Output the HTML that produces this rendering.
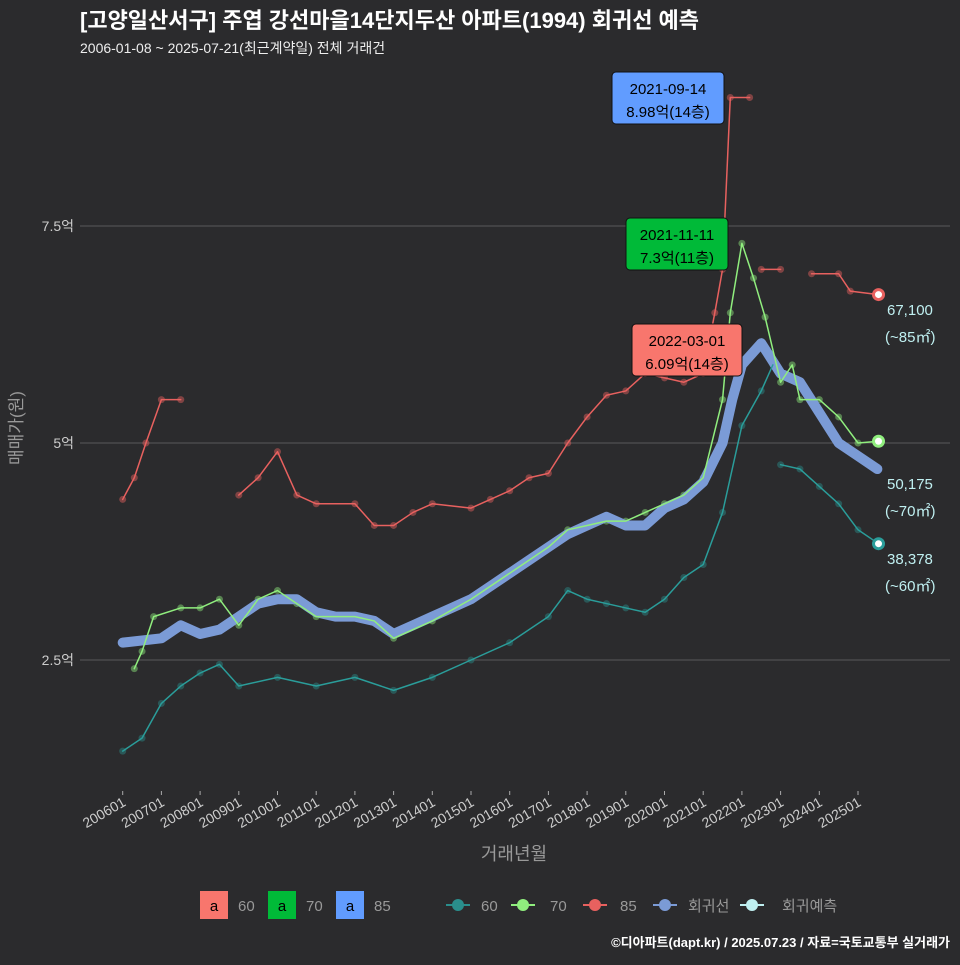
<!DOCTYPE html>
<html><head><meta charset="utf-8">
<style>
body{margin:0;background:#2b2b2d;}
svg text{font-family:"Liberation Sans","Noto Sans CJK KR",sans-serif;}
</style></head>
<body>
<svg id="chart" width="960" height="960" viewBox="0 0 960 960">
<rect width="960" height="960" fill="#2b2b2d"/>
<text x="80" y="28" fill="#fff" font-size="22" font-weight="bold">[고양일산서구] 주엽 강선마을14단지두산 아파트(1994) 회귀선 예측</text>
<text x="80" y="53" fill="#eee" font-size="14">2006-01-08 ~ 2025-07-21(최근계약일) 전체 거래건</text>
<g id="grid"></g>
<g id="marks"></g>
<g id="xaxis"></g>
<text x="22" y="428" fill="#999" font-size="17" transform="rotate(-90 22 428)" text-anchor="middle">매매가(원)</text>
<text x="514" y="860" fill="#999" font-size="18" text-anchor="middle">거래년월</text>
<g>
<rect x="612" y="72" width="112" height="52" rx="4" fill="#619cff" stroke="#111"/>
<text x="668" y="94" font-size="15" text-anchor="middle" fill="#000">2021-09-14</text>
<text x="668" y="117" font-size="15" text-anchor="middle" fill="#000">8.98억(14층)</text>
</g>
<g>
<rect x="626" y="218" width="102" height="52" rx="4" fill="#00ba38" stroke="#111"/>
<text x="677" y="240" font-size="15" text-anchor="middle" fill="#000">2021-11-11</text>
<text x="677" y="263" font-size="15" text-anchor="middle" fill="#000">7.3억(11층)</text>
</g>
<g>
<rect x="632" y="324" width="110" height="52" rx="4" fill="#f8766d" stroke="#111"/>
<text x="687" y="346" font-size="15" text-anchor="middle" fill="#000">2022-03-01</text>
<text x="687" y="369" font-size="15" text-anchor="middle" fill="#000">6.09억(14층)</text>
</g>
<g font-size="15" fill="#bfeff0">
<text x="887" y="315">67,100</text>
<text x="885" y="342">(~85㎡)</text>
<text x="887" y="489">50,175</text>
<text x="885" y="516">(~70㎡)</text>
<text x="887" y="564">38,378</text>
<text x="885" y="591">(~60㎡)</text>
</g>
<g font-size="15">
<rect x="200" y="891" width="28" height="28" fill="#f8766d"/><text x="214" y="911" text-anchor="middle" fill="#000">a</text><text x="238" y="911" fill="#999">60</text>
<rect x="268" y="891" width="28" height="28" fill="#00ba38"/><text x="282" y="911" text-anchor="middle" fill="#000">a</text><text x="306" y="911" fill="#999">70</text>
<rect x="336" y="891" width="28" height="28" fill="#619cff"/><text x="350" y="911" text-anchor="middle" fill="#000">a</text><text x="374" y="911" fill="#999">85</text>
<line x1="446" y1="905" x2="470" y2="905" stroke="#2a8e8c" stroke-width="2"/><circle cx="458" cy="905" r="6" fill="#2a8e8c"/><text x="481" y="911" fill="#999">60</text>
<line x1="511" y1="905" x2="535" y2="905" stroke="#90ee7e" stroke-width="2"/><circle cx="523" cy="905" r="6" fill="#90ee7e"/><text x="550" y="911" fill="#999">70</text>
<line x1="583" y1="905" x2="607" y2="905" stroke="#e8615f" stroke-width="2"/><circle cx="595" cy="905" r="6" fill="#e8615f"/><text x="620" y="911" fill="#999">85</text>
<line x1="653" y1="905" x2="677" y2="905" stroke="#7b9bd6" stroke-width="2"/><circle cx="665" cy="905" r="6" fill="#7b9bd6"/><text x="688" y="911" fill="#999">회귀선</text>
<line x1="740" y1="905" x2="764" y2="905" stroke="#bfeff0" stroke-width="2"/><circle cx="752" cy="905" r="6" fill="#bfeff0"/><text x="782" y="911" fill="#999">회귀예측</text>
</g>
<text x="950" y="947" fill="#fff" font-size="13" font-weight="bold" text-anchor="end">©디아파트(dapt.kr) / 2025.07.23 / 자료=국토교통부 실거래가</text>
</svg>
<script>
const yTicks=[2.5,5,7.5];
const yTickLabels=["2.5억","5억","7.5억"];
const xTickYears=[2006,2007,2008,2009,2010,2011,2012,2013,2014,2015,2016,2017,2018,2019,2020,2021,2022,2023,2024,2025];
const regT=[2006,2007,2007.5,2008,2008.5,2009,2009.5,2010,2010.5,2011,2011.5,2012,2012.5,2013,2013.5,2014,2014.5,2015,2015.5,2016,2016.5,2017,2017.5,2018,2018.5,2019,2019.5,2020,2020.5,2021,2021.5,2021.75,2022,2022.5,2023,2023.5,2024,2024.5,2025,2025.5];
const regV=[2.70,2.75,2.9,2.8,2.85,3.0,3.15,3.2,3.2,3.05,3.0,3.0,2.95,2.8,2.9,3.0,3.1,3.2,3.35,3.5,3.65,3.8,3.95,4.05,4.15,4.05,4.05,4.25,4.35,4.55,5.0,5.5,5.9,6.15,5.8,5.7,5.35,5.0,4.85,4.7];
const s85aT=[2006,2006.3,2006.6,2007,2007.5];
const s85aV=[4.35,4.6,5.0,5.5,5.5];
const s85bT=[2009,2009.5,2010,2010.5,2011,2012,2012.5,2013,2013.5,2014,2015,2015.5,2016,2016.5,2017,2017.5,2018,2018.5,2019,2019.5,2020,2020.5,2021,2021.3,2021.5,2021.7,2022.2];
const s85bV=[4.4,4.6,4.9,4.4,4.3,4.3,4.05,4.05,4.2,4.3,4.25,4.35,4.45,4.6,4.65,5.0,5.3,5.55,5.6,5.8,5.75,5.7,5.8,6.5,7.0,8.98,8.98];
const s85cT=[2022.5,2023];
const s85cV=[7.0,7.0];
const s85dT=[2023.8,2024.5,2024.8,2025.53];
const s85dV=[6.95,6.95,6.75,6.71];
const s70T=[2006.3,2006.5,2006.8,2007.5,2008,2008.5,2009,2009.5,2010,2010.5,2011,2012,2012.5,2013,2014,2015,2016,2017,2017.5,2018,2018.5,2019,2019.5,2020,2020.5,2021,2021.5,2021.7,2022,2022.3,2022.6,2023,2023.3,2023.5,2024,2024.5,2025,2025.53];
const s70V=[2.4,2.6,3.0,3.1,3.1,3.2,2.9,3.2,3.3,3.15,3.0,3.0,2.95,2.75,2.95,3.2,3.5,3.8,4.0,4.05,4.1,4.1,4.2,4.3,4.4,4.6,5.5,6.5,7.3,6.9,6.45,5.7,5.9,5.5,5.5,5.3,5.0,5.02];
const s60aT=[2006,2006.5,2007,2007.5,2008,2008.5,2009,2010,2011,2012,2013,2014,2015,2016,2017,2017.5,2018,2018.5,2019,2019.5,2020,2020.5,2021,2021.5,2022,2022.5,2022.8];
const s60aV=[1.45,1.6,2.0,2.2,2.35,2.45,2.2,2.3,2.2,2.3,2.15,2.3,2.5,2.7,3.0,3.3,3.2,3.15,3.1,3.05,3.2,3.45,3.6,4.2,5.2,5.6,5.9];
const s60bT=[2023,2023.5,2024,2024.5,2025,2025.53];
const s60bV=[4.75,4.7,4.5,4.3,4.0,3.84];

const X=t=>122.7+(t-2006)*38.7;
const Y=v=>877-v*86.8;
const NS='http://www.w3.org/2000/svg';
const grid=document.getElementById('grid'),marks=document.getElementById('marks'),xa=document.getElementById('xaxis');
function mk(tag,attrs,parent){const e=document.createElementNS(NS,tag);for(const k in attrs)e.setAttribute(k,attrs[k]);parent.appendChild(e);return e;}
yTicks.forEach((v,i)=>{
  const l=mk('line',{x1:80,x2:950,y1:Y(v),y2:Y(v),stroke:'#5a5a5a','stroke-width':1},grid);
  
  
  const t=mk('text',{x:74,y:Y(v)+5,fill:'#ccc','font-size':14,'text-anchor':'end'},grid);
  t.textContent=yTickLabels[i];
  
  
});
xTickYears.forEach(yr=>{
  const x=X(yr);
  const tk=mk('line',{x1:x,x2:x,y1:791,y2:795,stroke:'#aaa'},xa);
  
  
  const t=mk('text',{x:x+4,y:805,fill:'#ccc','font-size':14,'text-anchor':'end',transform:`rotate(-30 ${x+4} 805)`},xa);
  t.textContent=yr+'01';
  
  
});
function pts(T,V){return T.map((t,i)=>X(t)+','+Y(V[i])).join(' ');}
function dots(T,V,c,name){T.forEach((t,i)=>{const d=mk('circle',{cx:X(t),cy:Y(V[i]),r:3.5,fill:c,'fill-opacity':0.45},marks);
  
  });}
function line(T,V,c,w,name){const p=mk('polyline',{points:pts(T,V),fill:'none',stroke:c,'stroke-width':w,'stroke-linejoin':'round','stroke-linecap':'round'},marks);
  
  }
dots(s60aT,s60aV,'#2a8e8c','point-60');dots(s60bT,s60bV,'#2a8e8c','point-60');
dots(s70T,s70V,'#90ee7e','point-70');
[[s85aT,s85aV],[s85bT,s85bV],[s85cT,s85cV],[s85dT,s85dV]].forEach(a=>dots(a[0],a[1],'#e8615f','point-85'));
line(regT,regV,'#7b9bd6',10,'regression-line');
line(s60aT,s60aV,'#2a9d9a',1.5,'line-60');line(s60bT,s60bV,'#2a9d9a',1.5,'line-60');
line(s70T,s70V,'#90ee7e',1.5,'line-70');
[[s85aT,s85aV],[s85bT,s85bV],[s85cT,s85cV],[s85dT,s85dV]].forEach(a=>line(a[0],a[1],'#e8615f',1.5,'line-85'));
[[s85dT,s85dV,'#e8615f','end-marker-85'],[s70T,s70V,'#90ee7e','end-marker-70'],[s60bT,s60bV,'#2a9d9a','end-marker-60']].forEach(a=>{
  const n=a[0].length-1;
  const c=mk('circle',{cx:X(a[0][n]),cy:Y(a[1][n]),r:5,fill:'#fff',stroke:a[2],'stroke-width':3},marks);
  
  
});
</script>
</body></html>
